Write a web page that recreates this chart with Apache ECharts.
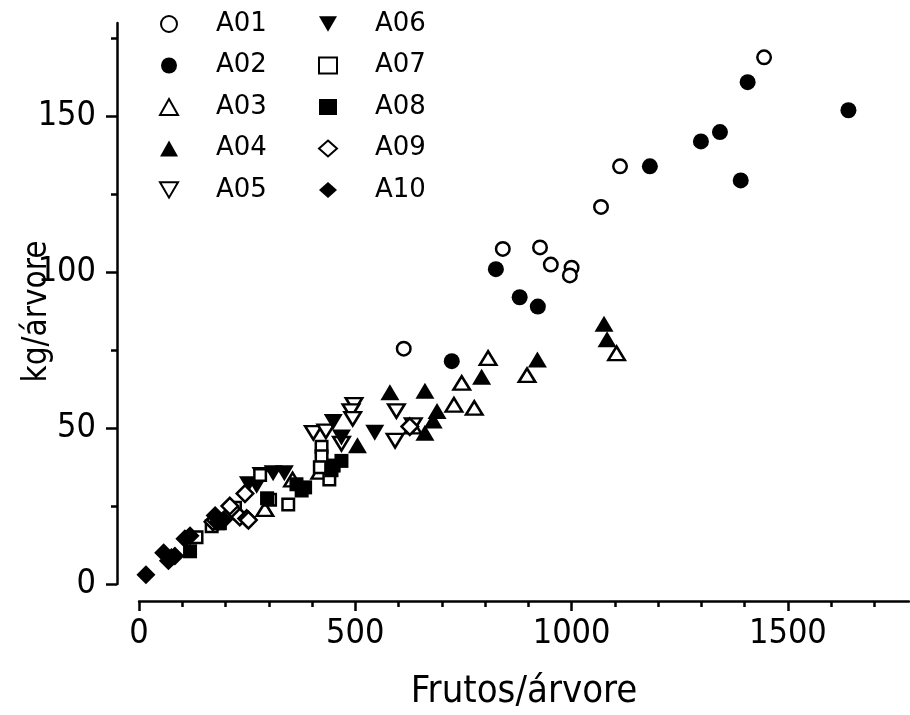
<!DOCTYPE html>
<html>
<head>
<meta charset="utf-8">
<script src="https://cdn.jsdelivr.net/npm/echarts@6/dist/echarts.min.js"></script>
<style>
html, body { margin: 0; padding: 0; background: #fff }
#main { width: 910px; height: 715px }
</style>
</head>
<body>
<div id="main"></div>
<script>
// series names
var seriesNames = ['A01', 'A02', 'A03', 'A04', 'A05', 'A06', 'A07', 'A08', 'A09', 'A10']

// [frutos/arvore, kg/arvore]
var a01 = [[1445, 169], [1112, 134], [1068, 121], [841, 107.5], [927, 108], [952, 102.5], [1000, 101.5], [996, 99], [612, 75.5]]
var a02 = [[1407, 161], [1343, 145], [1299, 142], [1640, 152], [1391, 129.5], [1181, 134], [825, 101], [880, 92], [922, 89], [723, 71.5]]
var a03 = [[1104, 74], [897, 67], [807, 72.5], [775, 56.5], [746, 64.5], [728, 57.5], [633, 50.5], [418, 36], [291, 24], [355, 33.5]]
var a04 = [[1075, 83.5], [1082, 78.5], [921, 72], [792, 66.5], [661, 62], [580, 61.5], [689, 55.5], [680, 52.5], [661, 48.5], [505, 44.5]]
var a05 = [[595, 55.5], [592, 46], [497, 57.5], [490, 55.5], [494, 53], [403, 48.5], [432, 49], [634, 51], [468, 45]]
var a06 = [[545, 48.5], [449, 52], [468, 47], [282, 35], [310, 35.5], [336, 35.5], [272, 31.5], [253, 32]]
var a07 = [[422, 44], [422, 41], [418, 37.5], [440, 33.5], [345, 25.5], [303, 27], [280, 35], [222, 24.5], [168, 18.5], [133, 15]]
var a08 = [[384, 31], [376, 30], [364, 32], [445, 36.5], [468, 39.5], [450, 38], [187, 19.5], [183, 19.5], [118, 10.5], [296, 27.5]]
var a09 = [[626, 50.5], [245, 29], [218, 23.5], [233, 21.5], [249, 21], [210, 25], [171, 20], [177, 20.5], [253, 20.5]]
var a10 = [[16, 3], [68, 7.5], [57, 10], [83, 9], [106, 14.5], [118, 15.5], [176, 22], [183, 20], [195, 20.5], [75, 8.5]]

var allData = [a01, a02, a03, a04, a05, a06, a07, a08, a09, a10]

// axis ticks
var xTicks = [0, 500, 1000, 1500]
var yTicks = [0, 50, 100, 150]

/* marker look for each series */
var downTri = 'path://M0,0L20,0L10,17Z'
var markers = [
    { symbol: 'circle', open: true, size: [16, 16] },
    { symbol: 'circle', open: false, size: [16, 16] },
    { symbol: 'triangle', open: true, size: [19, 16] },
    { symbol: 'triangle', open: false, size: [19, 16] },
    { symbol: downTri, open: true, size: [19, 16] },
    { symbol: downTri, open: false, size: [19, 16] },
    { symbol: 'rect', open: true, size: [14, 14] },
    { symbol: 'rect', open: false, size: [14, 14] },
    { symbol: 'diamond', open: true, size: [19, 19] },
    { symbol: 'diamond', open: false, size: [19, 19] }
]

var tickFont = '"Liberation Sans Narrow", "DejaVu Sans Condensed", sans-serif'

var series = []
for (var i = 0; i < seriesNames.length; i++) {
    var m = markers[i]
    var bw = m.open ? 2.5 : 0
    series.push({
        name: seriesNames[i],
        type: 'scatter',
        data: allData[i],
        symbol: m.symbol,
        symbolSize: [m.size[0] - bw, m.size[1] - bw],
        itemStyle: {
            color: m.open ? '#fff' : '#000',
            borderColor: '#000',
            borderWidth: bw,
            opacity: 1
        },
        emphasis: { disabled: true }
    })
}

function legendOf (names, left) {
    return {
        data: names,
        orient: 'vertical',
        left: left,
        top: 10,
        padding: 0,
        itemWidth: 18,
        itemHeight: 16,
        itemGap: 13.5,
        selectedMode: false,
        textStyle: {
            fontFamily: 'DejaVu Sans',
            fontSize: 26,
            lineHeight: 28,
            color: '#000',
            padding: [0, 0, 0, 33]
        }
    }
}

var myChart = echarts.init(document.getElementById('main'), null, { renderer: 'canvas' })

var option = {
    backgroundColor: '#fff',
    animation: false,
    grid: {
        left: 139,
        right: 1,
        top: 23,
        bottom: 131,
        containLabel: false,
        outerBoundsMode: 'none'
    },
    legend: [legendOf(seriesNames.slice(0, 5), 159), legendOf(seriesNames.slice(5), 318)],
    xAxis: {
        type: 'value',
        min: 0,
        max: 1780,
        interval: 500,
        offset: 17,
        axisLine: { show: true, onZero: false, lineStyle: { color: '#000', width: 2.5 } },
        axisTick: { show: true, length: 10, customValues: xTicks, lineStyle: { color: '#000', width: 2.5 } },
        minorTick: { show: true, splitNumber: 5, length: 6, lineStyle: { color: '#000', width: 2.5 } },
        splitLine: { show: false },
        axisLabel: {
            customValues: xTicks,
            margin: 16,
            color: '#000',
            fontFamily: tickFont,
            fontSize: 34,
            formatter: function (v) { return String(v) }
        },
        name: 'Frutos/árvore',
        nameLocation: 'middle',
        nameGap: 72,
        nameMoveOverlap: false,
        nameTextStyle: { fontFamily: tickFont, fontSize: 38, color: '#000' }
    },
    yAxis: {
        type: 'value',
        min: 0,
        max: 180,
        interval: 50,
        offset: 22,
        axisLine: { show: true, onZero: false, lineStyle: { color: '#000', width: 2.5 } },
        axisTick: { show: true, length: 11, customValues: yTicks, lineStyle: { color: '#000', width: 2.5 } },
        minorTick: { show: true, splitNumber: 2, length: 6, lineStyle: { color: '#000', width: 2.5 } },
        splitLine: { show: false },
        axisLabel: {
            customValues: yTicks,
            margin: 21,
            color: '#000',
            fontFamily: tickFont,
            fontSize: 34,
            formatter: function (v) { return String(v) }
        },
        name: 'kg/árvore',
        nameLocation: 'middle',
        nameGap: 63,
        nameMoveOverlap: false,
        nameTextStyle: { fontFamily: tickFont, fontSize: 33, color: '#000', padding: [0, 16, 0, 0] }
    },
    series: series
}

myChart.setOption(option)
window.onresize = myChart.resize
</script>
</body>
</html>
